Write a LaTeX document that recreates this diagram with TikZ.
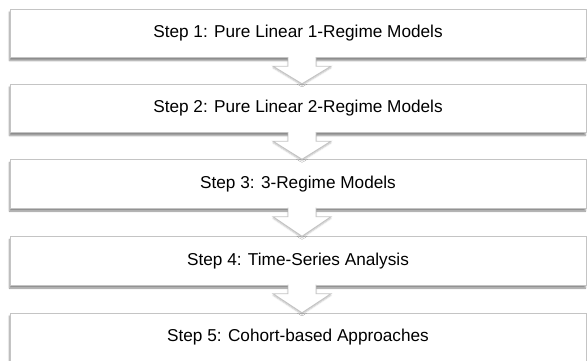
\documentclass[tikz,border=0pt]{standalone}
\usepackage{fontspec}
\setmainfont{Liberation Sans}
\usetikzlibrary{calc,shadows.blur}
\definecolor{boxline}{HTML}{C4C4C4}
\definecolor{txt}{HTML}{000000}
\tikzset{
  stepbox/.style={draw=boxline, line width=0.9pt, fill=white, minimum width=576pt, minimum height=48.5pt,
    inner sep=0pt, text=txt, font=\fontsize{17.2}{20}\selectfont,
    blur shadow={shadow xshift=-0.6pt, shadow yshift=-2.8pt, shadow blur steps=5, shadow blur radius=1.6pt, shadow opacity=45}},
  downarrow/.style={draw=boxline, line width=0.9pt, fill=white, line join=miter,
    blur shadow={shadow xshift=0pt, shadow yshift=-1.5pt, shadow blur steps=4, shadow blur radius=1.5pt, shadow opacity=25}}
}
\newcommand{\stepconn}[2]{%
  \draw[downarrow]
    ($(#1.south)+(-10pt,1pt)$) -- ($(#1.south)+(-10pt,-8pt)$) -- ($(#1.south)+(-25pt,-8pt)$)
    -- ($(#2.north)+(4pt,0pt)$) -- ($(#1.south)+(33pt,-8pt)$) -- ($(#1.south)+(18pt,-8pt)$)
    -- ($(#1.south)+(18pt,1pt)$);
}
\begin{document}
\begin{tikzpicture}[x=1pt,y=-1pt]
\useasboundingbox (0,0) rectangle (587,360);
\node[stepbox] (b1) at (298,33.5) {Step 1: Pure Linear 1-Regime Models};
\node[stepbox] (b2) at (298,108.5) {Step 2: Pure Linear 2-Regime Models};
\node[stepbox] (b3) at (298,184) {Step 3: 3-Regime Models};
\node[stepbox] (b4) at (298,261) {Step 4: Time-Series Analysis};
\node[stepbox] (b5) at (298,337.5) {Step 5: Cohort-based Approaches};
\stepconn{b1}{b2}
\stepconn{b2}{b3}
\stepconn{b3}{b4}
\stepconn{b4}{b5}
\end{tikzpicture}
\end{document}
